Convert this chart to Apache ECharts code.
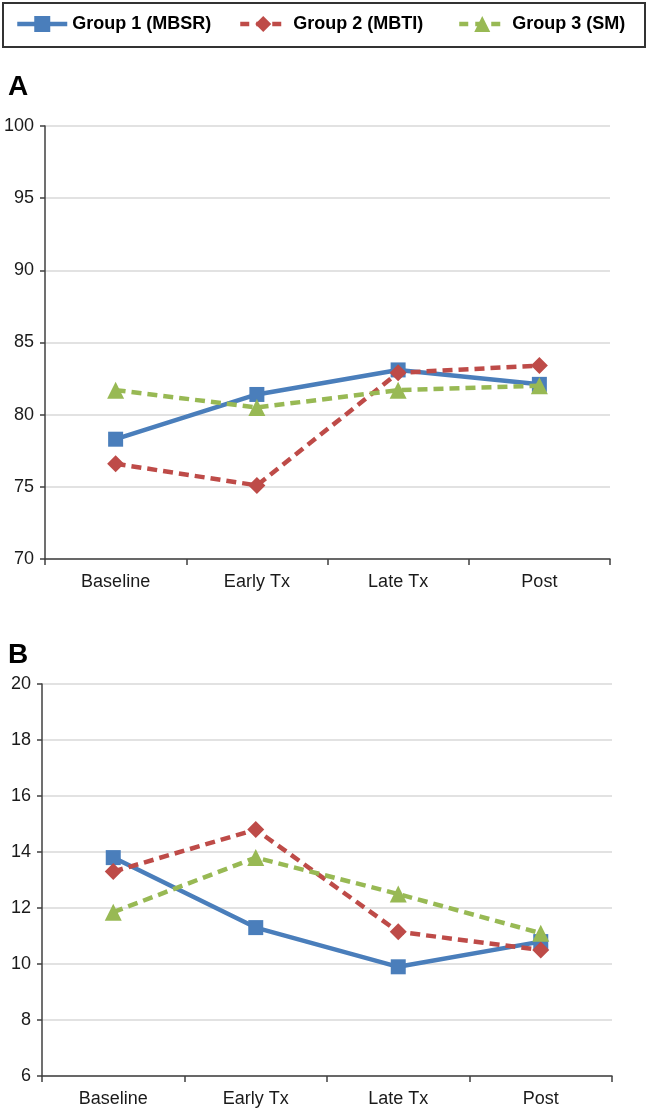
<!DOCTYPE html>
<html>
<head>
<meta charset="utf-8">
<script src="https://cdn.jsdelivr.net/npm/echarts@6/dist/echarts.min.js"></script>
<style>html,body{margin:0;padding:0;background:#fff}#c{width:648px;height:1111px}</style>
</head>
<body>
<div id="c"></div>
<script>
const categories = ['Baseline', 'Early Tx', 'Late Tx', 'Post'];
const seriesNames = ['Group 1 (MBSR)', 'Group 2 (MBTI)', 'Group 3 (SM)'];
const panelA_g1 = [78.3, 81.4, 83.1, 82.1];
const panelA_g2 = [76.6, 75.1, 82.9, 83.4];
const panelA_g3 = [81.7, 80.5, 81.7, 82.0];
const panelB_g1 = [13.8, 11.3, 9.9, 10.8];
const panelB_g2 = [13.3, 14.8, 11.15, 10.5];
const panelB_g3 = [11.85, 13.8, 12.5, 11.1];

const FONT = "'Liberation Sans',Arial,sans-serif";
const colors = ['#4a7ebb', '#be4b48', '#98b954'];
const symbols = ['rect', 'diamond', 'triangle'];
const symbolSizes = [15, 17, 17];
const lineTypes = ['solid', [10, 6], [10, 6]];
const legendLeft = [15, 236, 455];

const chart = echarts.init(document.getElementById('c'));

function xAxis(gi) {
  return {
    type: 'category', gridIndex: gi, data: categories, boundaryGap: true,
    axisLine: {lineStyle: {color: '#404040', width: 1.5}},
    axisTick: {show: true, length: 6, lineStyle: {color: '#404040', width: 1.5}},
    axisLabel: {color: '#1a1a1a', fontSize: 18, fontFamily: FONT, margin: 14}
  };
}
function yAxis(gi, min, max, interval) {
  return {
    type: 'value', gridIndex: gi, min: min, max: max, interval: interval,
    axisLine: {show: true, lineStyle: {color: '#404040', width: 1.5}},
    axisTick: {show: true, length: 5, lineStyle: {color: '#404040', width: 1.5}},
    axisLabel: {color: '#1a1a1a', fontSize: 18, fontFamily: FONT, margin: 11},
    splitLine: {lineStyle: {color: '#d9d9d9', width: 1.5}}
  };
}
function mkSeries(i, gi, data) {
  return {
    name: seriesNames[i], type: 'line', xAxisIndex: gi, yAxisIndex: gi, data: data,
    symbol: symbols[i], symbolSize: symbolSizes[i], showAllSymbol: true,
    itemStyle: {color: colors[i]},
    lineStyle: {color: colors[i], width: 4.5, type: lineTypes[i]},
    animation: false, z: 2 + i
  };
}
function mkLegend(i) {
  return {
    data: [seriesNames[i]],
    left: legendLeft[i], top: 15, padding: 0,
    itemWidth: 50, itemHeight: 20, itemGap: 0,
    lineStyle: {width: 4.5, type: i === 0 ? 'solid' : [9, 7], dashOffset: i === 0 ? 0 : -2},
    textStyle: {fontSize: 18, fontWeight: 'bold', color: '#000', fontFamily: FONT}
  };
}

chart.setOption({
  animation: false,
  graphic: [{
    type: 'rect',
    shape: {x: 3, y: 3, width: 642, height: 44},
    style: {fill: 'none', stroke: '#333', lineWidth: 2}
  }],
  title: [
    {text: 'A', left: 3, top: 68, textStyle: {fontSize: 28, fontWeight: 'bold', color: '#000', fontFamily: FONT}},
    {text: 'B', left: 3, top: 636, textStyle: {fontSize: 28, fontWeight: 'bold', color: '#000', fontFamily: FONT}}
  ],
  legend: [mkLegend(0), mkLegend(1), mkLegend(2)],
  grid: [
    {left: 45, right: 38, top: 126, bottom: 552},
    {left: 42, right: 36, top: 684, bottom: 35}
  ],
  xAxis: [xAxis(0), xAxis(1)],
  yAxis: [yAxis(0, 70, 100, 5), yAxis(1, 6, 20, 2)],
  series: [
    mkSeries(0, 0, panelA_g1), mkSeries(1, 0, panelA_g2), mkSeries(2, 0, panelA_g3),
    mkSeries(0, 1, panelB_g1), mkSeries(1, 1, panelB_g2), mkSeries(2, 1, panelB_g3)
  ]
});
</script>
</body>
</html>
